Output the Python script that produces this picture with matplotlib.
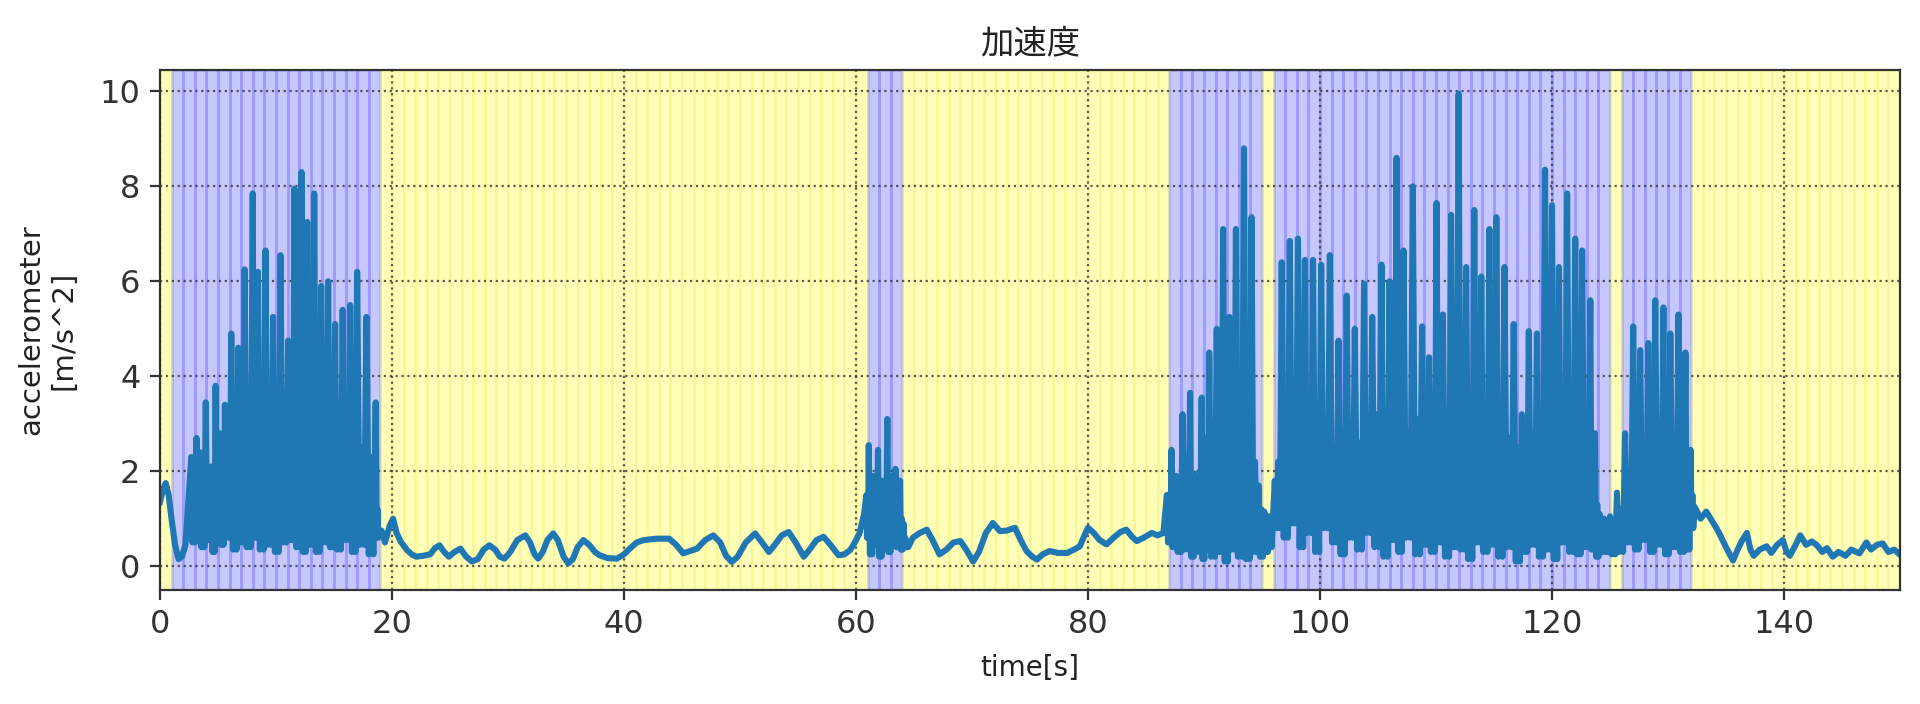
import numpy as np
import matplotlib
matplotlib.use('Agg')
import matplotlib.pyplot as plt

plt.rcParams['font.family'] = ['DejaVu Sans', 'Noto Sans CJK JP']

# seconds labelled as "moving" (blue); the rest is "still" (yellow)
active_segments = [(1, 19), (61, 64), (87, 95), (96, 125), (126, 132)]
n_seconds = 150

# calm stretches: knot times [s] and values [m/s^2]
rest1_t = [0.0, 0.25, 0.5, 0.75, 1.0, 1.3, 1.6, 1.9, 2.2]
rest1_v = [1.35, 1.6, 1.75, 1.5, 1.0, 0.45, 0.15, 0.2, 0.45]

rest2_t = [19.1, 19.4, 19.8, 20.1, 20.4, 20.8, 21.3, 21.7, 22.1, 22.7, 23.3, 23.7, 24.1,
           24.5, 24.9, 25.4, 25.9, 26.4, 26.9, 27.4, 27.9, 28.4, 28.9, 29.3, 29.7, 30.2,
           30.8, 31.5, 31.9, 32.3, 32.6, 33.0, 33.4, 33.9, 34.3, 34.8, 35.2, 35.6, 36.0,
           36.5, 37.0, 37.5, 37.9, 38.6, 39.4, 40.0, 40.5, 41.1, 41.7, 42.8, 43.9, 44.5,
           45.1, 45.7, 46.3, 47.0, 47.7, 48.3, 48.8, 49.3, 49.8, 50.5, 51.3, 51.9, 52.5,
           53.0, 53.6, 54.2, 54.8, 55.5, 56.0, 56.6, 57.2, 57.8, 58.5, 59.0, 59.5, 59.9,
           60.3, 60.7]
rest2_v = [0.75, 0.5, 0.85, 1.0, 0.7, 0.5, 0.34, 0.25, 0.2, 0.22, 0.25, 0.38, 0.44,
           0.3, 0.2, 0.3, 0.37, 0.2, 0.1, 0.15, 0.35, 0.44, 0.35, 0.2, 0.16, 0.3,
           0.55, 0.65, 0.5, 0.25, 0.16, 0.3, 0.55, 0.69, 0.55, 0.2, 0.06, 0.15, 0.4,
           0.55, 0.45, 0.3, 0.23, 0.17, 0.16, 0.25, 0.37, 0.5, 0.55, 0.58, 0.58, 0.45,
           0.27, 0.32, 0.37, 0.55, 0.65, 0.5, 0.22, 0.09, 0.2, 0.5, 0.69, 0.5, 0.3,
           0.45, 0.65, 0.72, 0.5, 0.2, 0.35, 0.55, 0.62, 0.45, 0.23, 0.25, 0.34, 0.5,
           0.69, 1.1]

rest3_t = [64.5, 64.9, 65.5, 66.1, 66.6, 67.2, 67.8, 68.4, 69.0, 69.5, 70.1, 70.6, 71.2,
           71.8, 72.4, 73.0, 73.7, 74.2, 74.7, 75.2, 75.6, 76.1, 76.7, 77.4, 78.2, 78.8,
           79.3, 79.7, 80.0, 80.5, 81.0, 81.6, 82.2, 82.8, 83.3, 83.8, 84.2, 84.8, 85.5,
           86.0, 86.5]
rest3_v = [0.4, 0.6, 0.7, 0.77, 0.55, 0.25, 0.35, 0.5, 0.53, 0.35, 0.1, 0.3, 0.7,
           0.91, 0.74, 0.75, 0.81, 0.55, 0.32, 0.2, 0.14, 0.25, 0.32, 0.28, 0.28, 0.35,
           0.42, 0.65, 0.81, 0.7, 0.55, 0.46, 0.6, 0.72, 0.77, 0.62, 0.53, 0.6, 0.7,
           0.65, 0.7]

rest6_t = [132.3, 132.8, 133.3, 133.8, 134.3, 134.7, 135.0, 135.6, 136.0, 136.4, 136.8,
           137.1, 137.4, 137.9, 138.5, 138.9, 139.4, 139.9, 140.2, 140.5, 141.0, 141.4,
           141.9, 142.4, 142.8, 143.3, 143.7, 144.2, 144.7, 145.3, 145.8, 146.5, 147.1,
           147.5, 148.0, 148.5, 149.0, 149.5, 150.0]
rest6_v = [1.25, 1.0, 1.15, 0.95, 0.75, 0.55, 0.4, 0.12, 0.35, 0.55, 0.7,
           0.35, 0.22, 0.35, 0.42, 0.28, 0.45, 0.55, 0.32, 0.22, 0.45, 0.65,
           0.45, 0.52, 0.45, 0.3, 0.38, 0.2, 0.3, 0.22, 0.35, 0.27, 0.5,
           0.35, 0.45, 0.48, 0.3, 0.35, 0.24]

# bursts: spike times, spike tops, body top after each spike, troughs
b1_t = [2.7, 3.15, 3.45, 3.95, 4.45, 4.8, 5.15, 5.6, 6.15, 6.75, 7.3, 8.0, 8.45, 9.1,
        9.75, 10.4, 11.05, 11.6, 12.2, 12.7, 13.3, 13.9, 14.5, 15.1, 15.75, 16.4, 17.0,
        17.8, 18.6]
b1_pk = [2.3, 2.7, 2.4, 3.45, 2.1, 3.8, 2.8, 3.4, 4.9, 4.6, 6.25, 7.85, 6.2, 6.65,
         5.25, 6.55, 4.75, 7.95, 8.3, 7.25, 7.85, 5.9, 6.0, 5.1, 5.4, 5.5, 6.2,
         5.25, 3.45]
b1_md = [1.5, 1.6, 1.8, 1.7, 2.0, 1.9, 2.2, 2.3, 2.6, 2.5, 2.9, 3.0, 2.8, 3.1,
         2.7, 3.0, 2.9, 3.2, 3.3, 3.0, 2.9, 2.8, 3.0, 2.7, 2.6, 2.9, 2.5,
         2.3, 1.2]
b1_lo = [0.5, 0.6, 0.4, 0.55, 0.3, 0.5, 0.45, 0.6, 0.35, 0.5, 0.4, 0.6, 0.35, 0.45,
         0.3, 0.5, 0.55, 0.4, 0.3, 0.45, 0.3, 0.5, 0.4, 0.35, 0.55, 0.3, 0.45,
         0.25, 0.6]

b2_t = [60.9, 61.1, 61.5, 61.9, 62.3, 62.7, 63.05, 63.4, 63.8, 64.1]
b2_pk = [1.5, 2.55, 1.9, 2.45, 1.8, 3.1, 1.9, 2.05, 1.8, 0.9]
b2_md = [1.0, 1.3, 1.2, 1.4, 1.2, 1.5, 1.3, 1.4, 1.0, 0.6]
b2_lo = [0.6, 0.25, 0.45, 0.2, 0.4, 0.3, 0.5, 0.4, 0.35, 0.4]

b3_t = [86.8, 87.2, 87.6, 88.15, 88.8, 89.2, 89.8, 90.1, 90.45, 91.1, 91.65, 92.2, 92.75,
        93.45, 94.1, 94.7, 95.2, 95.6]
b3_pk = [1.5, 2.45, 1.9, 3.2, 3.65, 1.95, 3.55, 2.7, 4.5, 5.0, 7.1, 5.25, 7.1,
         8.8, 7.35, 1.7, 1.15, 1.05]
b3_md = [1.2, 1.5, 1.4, 1.8, 1.9, 1.7, 2.0, 2.1, 2.3, 2.5, 2.6, 2.5, 2.7,
         2.6, 2.2, 1.2, 0.8, 0.9]
b3_lo = [0.5, 0.4, 0.3, 0.35, 0.2, 0.3, 0.15, 0.35, 0.2, 0.3, 0.1, 0.35, 0.2,
         0.15, 0.3, 0.2, 0.3, 0.4]

b4_t = [96.1, 96.7, 97.4, 98.1, 98.7, 99.4, 100.1, 100.85, 101.6, 102.3, 103.0, 103.8,
        104.5, 105.3, 106.0, 106.6, 107.2, 108.0, 108.8, 109.4, 110.05, 110.6, 111.3,
        111.95, 112.6, 113.3, 113.9, 114.6, 115.2, 115.9, 116.7, 117.4, 118.0, 118.7,
        119.4, 120.0, 120.6, 121.3, 122.0, 122.6, 123.3, 123.7, 124.1]
b4_pk = [1.8, 6.4, 6.85, 6.9, 6.45, 6.45, 6.35, 6.55, 4.75, 5.7, 5.0, 5.95,
         5.25, 6.35, 6.0, 8.6, 6.65, 8.0, 5.05, 4.4, 7.65, 5.3, 7.4,
         9.95, 6.3, 7.5, 6.1, 7.1, 7.35, 6.3, 5.1, 3.2, 4.95, 4.9,
         8.35, 7.6, 6.3, 7.85, 6.9, 6.65, 5.6, 2.8, 1.1]
b4_md = [2.2, 2.8, 3.0, 2.6, 3.1, 2.7, 2.9, 2.5, 2.8, 3.0, 2.6, 2.9,
         3.2, 2.7, 3.0, 3.3, 2.8, 3.1, 2.6, 3.0, 3.4, 2.7, 3.2,
         3.0, 2.8, 3.3, 2.6, 3.1, 2.9, 2.7, 2.5, 2.3, 2.8, 3.0,
         3.2, 2.9, 3.1, 2.7, 3.0, 2.6, 2.2, 1.3, 0.9]
b4_lo = [0.8, 0.6, 0.9, 0.4, 0.7, 0.3, 0.8, 0.5, 0.25, 0.6, 0.35, 0.7,
         0.4, 0.2, 0.55, 0.3, 0.6, 0.25, 0.45, 0.3, 0.5, 0.2, 0.4,
         0.35, 0.15, 0.5, 0.3, 0.45, 0.2, 0.4, 0.1, 0.3, 0.45, 0.2,
         0.35, 0.15, 0.5, 0.3, 0.25, 0.4, 0.35, 0.2, 0.3]

b5_t = [124.5, 125.0, 125.6, 126.3, 127.0, 127.6, 128.3, 128.9, 129.6, 130.2, 130.9,
        131.5, 131.95]
b5_pk = [1.0, 1.05, 1.55, 2.8, 5.05, 4.55, 4.7, 5.6, 5.45, 4.9, 5.3, 4.5, 2.45]
b5_md = [0.8, 0.9, 1.2, 1.8, 2.4, 2.2, 2.6, 2.5, 2.3, 2.6, 2.4, 2.0, 1.5]
b5_lo = [0.3, 0.25, 0.3, 0.5, 0.35, 0.55, 0.3, 0.45, 0.25, 0.4, 0.3, 0.35, 0.8]


def burst(ts, pk, md, lo):
    # spike -> trough -> body top -> trough, between each pair of spikes
    xs, ys = [], []
    for i in range(len(ts)):
        d = ts[i + 1] - ts[i] if i < len(ts) - 1 else 0.3
        xs += [ts[i], ts[i] + d / 4, ts[i] + d / 2, ts[i] + 3 * d / 4]
        ys += [pk[i], lo[i], md[i], lo[i]]
    return xs, ys


pieces = [
    (rest1_t, rest1_v),
    burst(b1_t, b1_pk, b1_md, b1_lo),
    (rest2_t, rest2_v),
    burst(b2_t, b2_pk, b2_md, b2_lo),
    (rest3_t, rest3_v),
    burst(b3_t, b3_pk, b3_md, b3_lo),
    burst(b4_t, b4_pk, b4_md, b4_lo),
    burst(b5_t, b5_pk, b5_md, b5_lo),
    (rest6_t, rest6_v),
]
t = np.concatenate([np.asarray(p[0], dtype=float) for p in pieces])
acc = np.concatenate([np.asarray(p[1], dtype=float) for p in pieces])

fig = plt.figure(figsize=(9.6, 3.52), dpi=200)
ax = fig.add_axes([0.0833, 0.162, 0.9063, 0.7386])

for s in range(n_seconds):
    moving = any(a <= s < b for a, b in active_segments)
    if moving:
        ax.axvspan(s, s + 1, facecolor=(0, 0, 1, 0.22), edgecolor=(0, 0, 1, 0.12), linewidth=1.0)
    else:
        ax.axvspan(s, s + 1, facecolor=(1, 1, 0, 0.28), edgecolor=(0.8, 0.8, 0, 0.08), linewidth=1.0)

ax.plot(t, acc, color='#1f77b4', linewidth=2.2)

ax.set_xlim(0, 150)
ax.set_ylim(-0.5, 10.45)
ax.grid(True, linestyle=':', color='#333333', linewidth=0.8, alpha=0.8)
ax.tick_params(labelsize=11.5, colors='#333333')
for sp in ax.spines.values():
    sp.set_color('#333333')

ax.set_title('加速度', fontsize=12, color='#222222')
ax.set_xlabel('time[s]', fontsize=10, labelpad=5, color='#222222')
ax.set_ylabel('accelerometer\n[m/s^2]', fontsize=10.5, labelpad=8, color='#222222')

fig.savefig('out.png', dpi=200)
